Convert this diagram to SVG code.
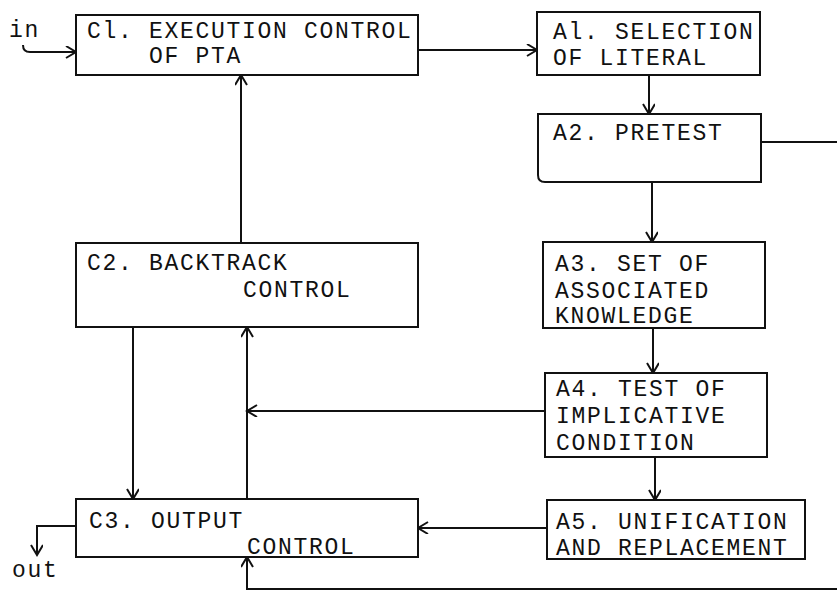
<svg xmlns="http://www.w3.org/2000/svg" width="837" height="592" viewBox="0 0 837 592">
<defs>
<style>
.box{fill:#ffffff;stroke:#111;stroke-width:2}
.t{font-family:"Liberation Mono","Courier New",monospace;font-size:23px;letter-spacing:1.7px;fill:#111}
.c{fill:none;stroke:#111;stroke-width:2}
.a{marker-end:url(#arr)}
</style>
<marker id="arr" markerUnits="userSpaceOnUse" markerWidth="14" markerHeight="14" refX="11" refY="6" orient="auto">
<path d="M1,0 L11,6 L1,12" fill="none" stroke="#111" stroke-width="2"/>
</marker>
</defs>
<rect width="837" height="592" fill="#ffffff"/>
<g id="connectors">
<path class="c a" d="M23,45 Q23,52 30,52 L76,52"/>
<path class="c a" d="M418,50 L537,50"/>
<path class="c a" d="M649,75 L649,114"/>
<path class="c a" d="M652,182 L652,242"/>
<path class="c a" d="M653,328 L653,373"/>
<path class="c a" d="M655,457 L655,500"/>
<path class="c a" d="M761,142 L845,142 L845,589 L247,589 L247,557"/>
<path class="c a" d="M241,243 L241,75"/>
<path class="c a" d="M133,327 L133,499"/>
<path class="c a" d="M247,499 L247,327"/>
<path class="c a" d="M545,411 L247,411"/>
<path class="c a" d="M547,528 L418,528"/>
<path class="c a" d="M76,526 L37,526 L37,555"/>
</g>
<g id="in"><text class="t" x="9" y="37">in</text></g>
<g id="out"><text class="t" x="12" y="577">out</text></g>
<g id="C1">
<rect class="box" x="76" y="15" width="342" height="60"/>
<text class="t" x="87" y="38">Cl. EXECUTION CONTROL</text>
<text class="t" x="149" y="63">OF PTA</text>
</g>
<g id="A1">
<rect class="box" x="537" y="12" width="223" height="63"/>
<text class="t" x="553" y="39">Al. SELECTION</text>
<text class="t" x="553" y="65">OF LITERAL</text>
</g>
<g id="A2">
<path class="box" d="M538,114 L761,114 L761,182 L545,182 Q538,182 538,175 Z"/>
<text class="t" x="553" y="140">A2. PRETEST</text>
</g>
<g id="A3">
<rect class="box" x="543" y="242" width="222" height="86"/>
<text class="t" x="555" y="271">A3. SET OF</text>
<text class="t" x="555" y="298">ASSOCIATED</text>
<text class="t" x="555" y="323">KNOWLEDGE</text>
</g>
<g id="A4">
<rect class="box" x="545" y="373" width="222" height="84"/>
<text class="t" x="556" y="396">A4. TEST OF</text>
<text class="t" x="556" y="423">IMPLICATIVE</text>
<text class="t" x="556" y="450">CONDITION</text>
</g>
<g id="A5">
<rect class="box" x="547" y="500" width="258" height="59"/>
<text class="t" x="556" y="529">A5. UNIFICATION</text>
<text class="t" x="556" y="555">AND REPLACEMENT</text>
</g>
<g id="C2">
<rect class="box" x="76" y="243" width="342" height="84"/>
<text class="t" x="87" y="270">C2. BACKTRACK</text>
<text class="t" x="243" y="297">CONTROL</text>
</g>
<g id="C3">
<rect class="box" x="76" y="499" width="342" height="58"/>
<text class="t" x="89" y="528">C3. OUTPUT</text>
<text class="t" x="247" y="554">CONTROL</text>
</g>
</svg>
